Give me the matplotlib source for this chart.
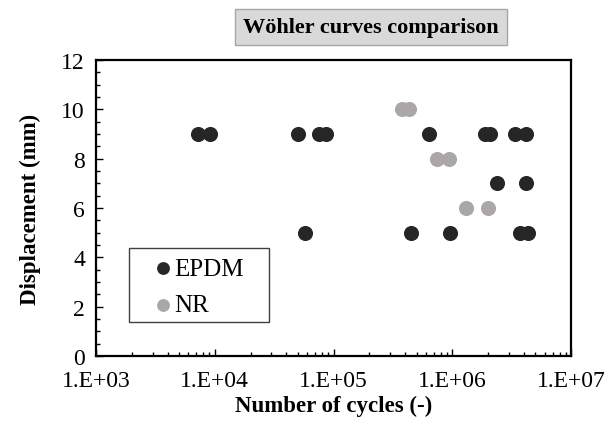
import matplotlib
matplotlib.use("Agg")
import matplotlib.pyplot as plt
from matplotlib.patches import Rectangle
from matplotlib.ticker import LogLocator, MultipleLocator, FixedLocator

# Wöhler 곡선 데이터 (사이클 수, 변위)
epdm_cycles = [7.2e3, 9.1e3, 5.0e4, 7.5e4, 8.7e4, 5.8e4,
               6.4e5, 1.87e6, 2.06e6, 3.35e6, 4.16e6,
               2.36e6, 4.16e6,
               4.5e5, 9.6e5, 3.7e6, 4.3e6]
epdm_disp = [9, 9, 9, 9, 9, 5,
             9, 9, 9, 9, 9,
             7, 7,
             5, 5, 5, 5]

nr_cycles = [3.8e5, 4.3e5, 7.5e5, 9.4e5, 1.31e6, 1.98e6]
nr_disp = [10, 10, 8, 8, 6, 6]

x_ticks = [1e3, 1e4, 1e5, 1e6, 1e7]
x_tick_labels = ["1.E+03", "1.E+04", "1.E+05", "1.E+06", "1.E+07"]
y_ticks = [0, 2, 4, 6, 8, 10, 12]

plt.rcParams["font.family"] = ["Liberation Serif", "DejaVu Serif"]

fig = plt.figure(figsize=(6.16, 4.35), dpi=100)
ax = fig.add_axes([0.156, 0.179, 0.771, 0.681])

ax.scatter(epdm_cycles, epdm_disp, s=118, color="#262626", label="EPDM",
           linewidths=0, zorder=3)
ax.scatter(nr_cycles, nr_disp, s=118, color="#aba7a7", label="NR",
           linewidths=0, zorder=3)

ax.set_xscale("log")
ax.set_xlim(1e3, 1e7)
ax.set_ylim(0, 12)
ax.xaxis.set_major_locator(FixedLocator(x_ticks))
ax.set_xticklabels(x_tick_labels)
ax.xaxis.set_minor_locator(LogLocator(base=10, subs=range(2, 10), numticks=20))
ax.xaxis.set_minor_formatter(plt.NullFormatter())
ax.set_yticks(y_ticks)
ax.yaxis.set_minor_locator(MultipleLocator(0.5))

ax.tick_params(axis="both", which="both", direction="in", labelsize=17,
               top=False, right=False, width=1)
ax.tick_params(axis="both", which="major", length=5)
ax.tick_params(axis="both", which="minor", length=3)
ax.tick_params(axis="x", which="major", pad=10)
ax.tick_params(axis="y", which="major", pad=8)

for sp in ax.spines.values():
    sp.set_linewidth(1.6)
    sp.set_color("black")

ax.set_xlabel("Number of cycles (-)", fontsize=16.5, fontweight="bold", labelpad=3)
ax.set_ylabel("Displacement (mm)", fontsize=16.5, fontweight="bold", labelpad=15)

fig.text(0.602, 0.936, "Wöhler curves comparison", ha="center", va="center",
         fontsize=16, fontweight="bold",
         bbox=dict(boxstyle="square,pad=0.36", facecolor="#d9d9d9",
                   edgecolor="#a6a6a6", linewidth=1))

# 범례 테두리는 직접 그림 (Excel 스타일 여백)
ax.add_patch(Rectangle((0.069, 0.115), 0.295, 0.25, transform=ax.transAxes,
                       facecolor="white", edgecolor="#404040", linewidth=1,
                       zorder=4))
leg = ax.legend(loc="upper left", bbox_to_anchor=(0.115, 0.333), fontsize=18,
                frameon=False, handletextpad=-0.06, markerscale=0.85,
                borderpad=0, labelspacing=0.56, handlelength=1.0,
                borderaxespad=0)
leg.set_zorder(5)

fig.savefig("out.png", dpi=100)
